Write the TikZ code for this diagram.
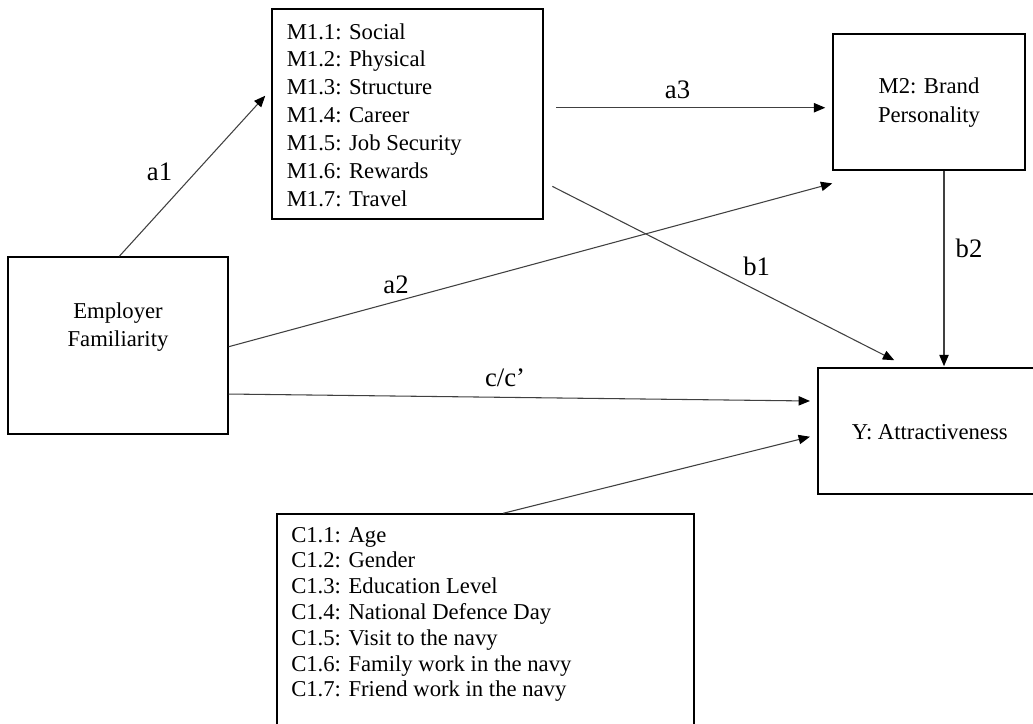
\documentclass[tikz,border=0pt]{standalone}
\usepackage{fontspec}
\setmainfont{Liberation Serif}
\usetikzlibrary{arrows.meta}
\begin{document}
\begin{tikzpicture}[x=0.75pt,y=-0.75pt,
  box/.style={draw=black, line width=1.1pt, inner sep=0pt},
  txt/.style={inner sep=0pt, align=left, font=\fontsize{17}{20.9}\selectfont},
  ctxt/.style={inner sep=0pt, align=center, font=\fontsize{17}{20.8}\selectfont},
  conn/.style={draw=black!75, line width=0.8pt, -{Triangle[length=8.5pt,width=7pt,color=black]}},
  lbl/.style={inner sep=0pt, font=\fontsize{20}{24}\selectfont}]
\useasboundingbox (0,0) rectangle (1033,724);
% boxes
\node[box, minimum width=165pt, minimum height=132.75pt] (ef) at (118,345.5) {};
\node[box, minimum width=203.25pt, minimum height=157.5pt] (m1) at (407.5,114) {};
\node[box, minimum width=144pt, minimum height=102pt] (m2) at (929,102) {};
\node[box, minimum width=167.25pt, minimum height=94.5pt] (y) at (929.5,431) {};
\node[box, minimum width=312.75pt, minimum height=165.75pt] (c) at (485.5,624.5) {};
% texts
\node[ctxt] (eft) at (118,327) {Employer\\Familiarity};
\node[txt, anchor=west] (m1t) at (286.5,115) {M1.1: Social\\M1.2: Physical\\M1.3: Structure\\M1.4: Career\\M1.5: Job Security\\M1.6: Rewards\\M1.7: Travel};
\node[ctxt, font=\fontsize{17}{21.75}\selectfont] (m2t) at (929,102.5) {M2: Brand\\Personality};
\node[ctxt] (yt) at (929.7,431.7) {Y: Attractiveness};
\node[txt, anchor=west, font=\fontsize{17}{19.35}\selectfont] (ct) at (291,614.5) {C1.1: Age\\C1.2: Gender\\C1.3: Education Level\\C1.4: National Defence Day\\C1.5: Visit to the navy\\C1.6: Family work in the navy\\C1.7: Friend work in the navy};
% connectors
\draw[conn] ([xshift=1pt]ef.north) -- ([xshift=-4.5pt,yshift=13.7pt]m1.west);
\draw[conn] ([xshift=9.5pt,yshift=4.7pt]m1.east) -- ([xshift=-5.25pt,yshift=-4.3pt]m2.west);
\draw[conn] ([yshift=-0.9pt]ef.east) -- ([yshift=-9.5pt]m2.south west);
\draw[conn] ([xshift=6.5pt,yshift=25pt]m1.south east) -- ([xshift=57.75pt,yshift=5.25pt]y.north west);
\draw[conn] ([xshift=11.25pt]m2.south) -- ([xshift=11.25pt,yshift=0.8pt]m2.south |- y.north);
\draw[conn] ([yshift=-36.4pt]ef.east) -- ([xshift=-5.5pt,yshift=22.5pt]y.west);
\draw[conn] ([xshift=13.35pt]c.north) -- ([xshift=-5.5pt,yshift=-4.3pt]y.west);
% labels
\node[lbl] (la1) at (159.5,172) {a1};
\node[lbl] (la3) at (677.5,90) {a3};
\node[lbl] (la2) at (396,285) {a2};
\node[lbl] (lb1) at (756.7,266.7) {b1};
\node[lbl] (lb2) at (969,248) {b2};
\node[lbl] (lc) at (505,378) {c/c’};
\end{tikzpicture}
\end{document}
